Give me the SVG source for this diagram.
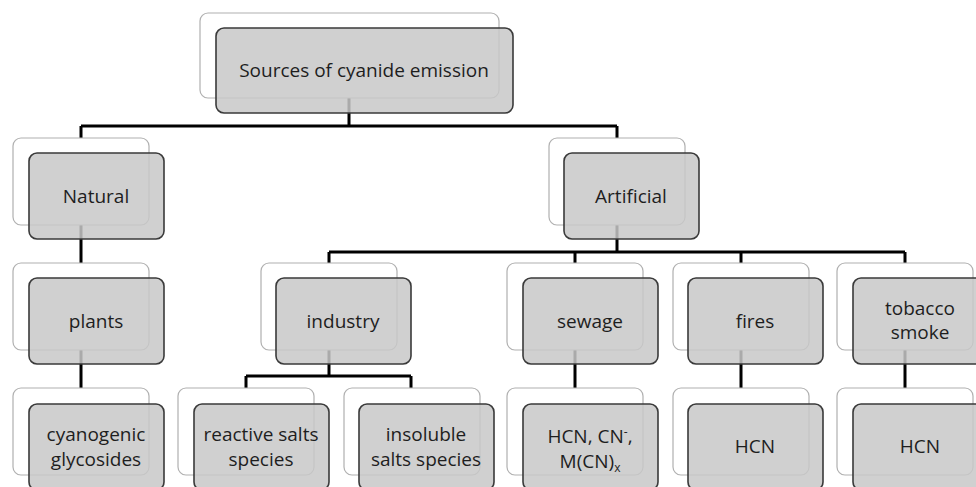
<svg xmlns="http://www.w3.org/2000/svg" width="976" height="487" viewBox="0 0 976 487">
<style>
.bk{fill:#ffffff;stroke:#b0b0b0;stroke-width:1.2}
.fr{fill:#c8c8c8;fill-opacity:0.85;stroke:#3a3a3a;stroke-width:1.6}
.t{font-family:"Open Sans","Noto Sans",sans-serif;font-size:19px;fill:#1e1e1e;text-anchor:middle}
.c{fill:none;stroke:#000;stroke-width:3}
</style>
<g id="connectors">
<path class="c" d="M349,56 V126 M81,126 H617 M81,126 V181 M617,126 V181"/>
<path class="c" d="M81,181 V306 M81,306 V431"/>
<path class="c" d="M617,181 V252 M329,252 H905 M329,252 V306 M575,252 V306 M741,252 V306 M905,252 V306"/>
<path class="c" d="M329,306 V376 M246,376 H411 M246,376 V431 M411,376 V431"/>
<path class="c" d="M575,306 V431 M741,306 V431 M905,306 V431"/>
</g>
<g id="n-root">
<rect class="bk" x="200" y="13" width="299" height="85" rx="8"/>
<rect class="fr" x="216" y="28" width="297" height="85" rx="8"/>
<text class="t" x="364" y="77">Sources of cyanide emission</text>
</g>
<g id="n-natural">
<rect class="bk" x="13" y="138" width="136" height="87" rx="8"/>
<rect class="fr" x="29" y="153" width="135" height="86" rx="8"/>
<text class="t" x="96" y="203">Natural</text>
</g>
<g id="n-artificial">
<rect class="bk" x="549" y="138" width="136" height="87" rx="8"/>
<rect class="fr" x="564" y="153" width="135" height="86" rx="8"/>
<text class="t" x="631" y="203">Artificial</text>
</g>
<g id="n-plants">
<rect class="bk" x="13" y="263" width="136" height="87" rx="8"/>
<rect class="fr" x="29" y="278" width="135" height="86" rx="8"/>
<text class="t" x="96" y="328">plants</text>
</g>
<g id="n-industry">
<rect class="bk" x="261" y="263" width="136" height="87" rx="8"/>
<rect class="fr" x="276" y="278" width="135" height="86" rx="8"/>
<text class="t" x="343" y="328">industry</text>
</g>
<g id="n-sewage">
<rect class="bk" x="507" y="263" width="136" height="87" rx="8"/>
<rect class="fr" x="523" y="278" width="135" height="86" rx="8"/>
<text class="t" x="590" y="328">sewage</text>
</g>
<g id="n-fires">
<rect class="bk" x="673" y="263" width="136" height="87" rx="8"/>
<rect class="fr" x="688" y="278" width="135" height="86" rx="8"/>
<text class="t" x="755" y="328">fires</text>
</g>
<g id="n-tobacco">
<rect class="bk" x="837" y="263" width="136" height="87" rx="8"/>
<rect class="fr" x="853" y="278" width="135" height="86" rx="8"/>
<text class="t" x="920" y="315">tobacco</text>
<text class="t" x="920" y="339">smoke</text>
</g>
<g id="n-cyanogenic">
<rect class="bk" x="13" y="388" width="136" height="87" rx="8"/>
<rect class="fr" x="29" y="404" width="135" height="86" rx="8"/>
<text class="t" x="96" y="441">cyanogenic</text>
<text class="t" x="96" y="466">glycosides</text>
</g>
<g id="n-reactive">
<rect class="bk" x="178" y="388" width="136" height="87" rx="8"/>
<rect class="fr" x="194" y="404" width="135" height="86" rx="8"/>
<text class="t" x="261" y="441">reactive salts</text>
<text class="t" x="261" y="466">species</text>
</g>
<g id="n-insoluble">
<rect class="bk" x="344" y="388" width="136" height="87" rx="8"/>
<rect class="fr" x="359" y="404" width="135" height="86" rx="8"/>
<text class="t" x="426" y="441">insoluble</text>
<text class="t" x="426" y="466">salts species</text>
</g>
<g id="n-hcn-cn">
<rect class="bk" x="507" y="388" width="136" height="87" rx="8"/>
<rect class="fr" x="523" y="404" width="135" height="86" rx="8"/>
<text class="t" x="590" y="443">HCN, CN<tspan font-size="12" dy="-7">-</tspan><tspan dy="7">,</tspan></text>
<text class="t" x="590" y="468">M(CN)<tspan font-size="12" dy="4">x</tspan></text>
</g>
<g id="n-hcn-fires">
<rect class="bk" x="673" y="388" width="136" height="87" rx="8"/>
<rect class="fr" x="688" y="404" width="135" height="86" rx="8"/>
<text class="t" x="755" y="453">HCN</text>
</g>
<g id="n-hcn-tobacco">
<rect class="bk" x="837" y="388" width="136" height="87" rx="8"/>
<rect class="fr" x="853" y="404" width="135" height="86" rx="8"/>
<text class="t" x="920" y="453">HCN</text>
</g>
</svg>
